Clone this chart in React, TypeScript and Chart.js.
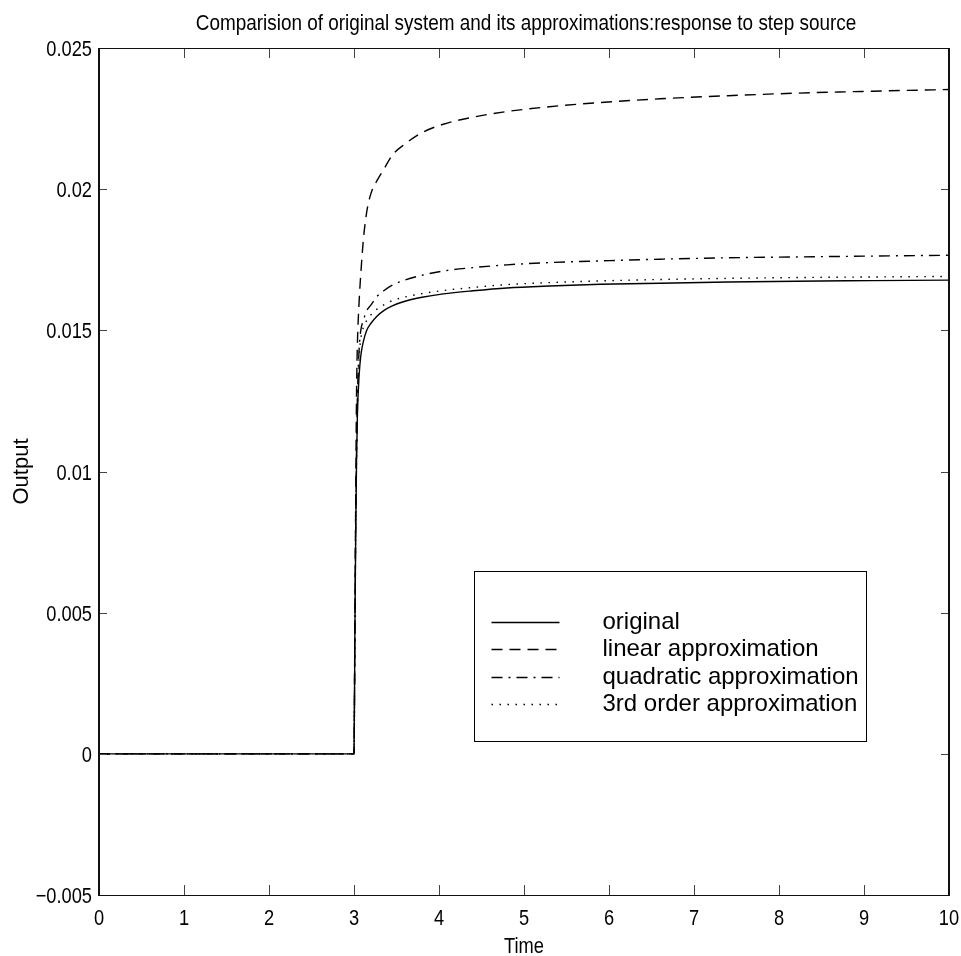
import React, { useEffect, useRef } from 'react';
import { Chart, registerables } from 'chart.js';

Chart.register(...registerables);

// Simulation time grid (s)
const time = [
  0, 3, 3.01, 3.02, 3.03, 3.04, 3.06, 3.08, 3.11, 3.15, 3.2, 3.27, 3.35, 3.45, 3.6,
  3.8, 4.05, 4.4, 4.8, 5.3, 5.9, 6.6, 7.4, 8.2, 9.1, 10,
];

// Step responses of the full system and its reduced-order models
const original = [
  0, 0, 0.004, 0.0078, 0.0104, 0.012, 0.0134, 0.0141, 0.0146, 0.015, 0.01525, 0.0155,
  0.0157, 0.01587, 0.01603, 0.01617, 0.01629, 0.0164, 0.0165, 0.01657, 0.01663, 0.01667,
  0.01671, 0.01674, 0.01676, 0.01678,
];
const linearApprox = [
  0, 0, 0.0045, 0.009, 0.0128, 0.0145, 0.016, 0.017, 0.0182, 0.0192, 0.01985, 0.0203,
  0.0207, 0.0212, 0.0216, 0.022, 0.0223, 0.02255, 0.02275, 0.02292, 0.02307, 0.0232,
  0.02331, 0.0234, 0.02347, 0.02353,
];
const quadraticApprox = [
  0, 0, 0.0041, 0.008, 0.0108, 0.0126, 0.0143, 0.015, 0.01535, 0.0157, 0.0159, 0.0162,
  0.0164, 0.0166, 0.01678, 0.01695, 0.0171, 0.01722, 0.01732, 0.0174, 0.01746, 0.01752,
  0.01757, 0.0176, 0.01763, 0.01766,
];
const thirdOrderApprox = [
  0, 0, 0.004, 0.0078, 0.0105, 0.0122, 0.014, 0.0147, 0.0151, 0.01535, 0.01555, 0.01575,
  0.0159, 0.01605, 0.01618, 0.0163, 0.01641, 0.01652, 0.01662, 0.01669, 0.01675, 0.0168,
  0.01684, 0.01687, 0.01689, 0.01691,
];

const seriesLabels = [
  'original',
  'linear approximation',
  'quadratic approximation',
  '3rd order approximation',
];
const seriesDashes: number[][] = [[], [11, 7], [11, 6, 2, 6], [1.5, 6.5]];

const xTickValues = [0, 1, 2, 3, 4, 5, 6, 7, 8, 9, 10];
const yTickValues = [-0.005, 0, 0.005, 0.01, 0.015, 0.02, 0.025];

const titleText =
  'Comparision of original system and its approximations:response to step source';
const xTitle = 'Time';
const yTitle = 'Output';

const SANS = "'Liberation Sans', Arial, Helvetica, sans-serif";

const formatX = (v: number) => String(v);
const formatY = (v: number) => {
  if (Math.abs(v) < 1e-12) return '0';
  const s = String(+Math.abs(v).toFixed(3));
  return (v < 0 ? '\u2212' : '') + s;
};

const toPoints = (ys: number[]) => time.map((t, i) => ({ x: t, y: ys[i] }));

// Narrow Helvetica-like lettering: regular sans squeezed horizontally
function narrowText(
  ctx: CanvasRenderingContext2D,
  text: string,
  x: number,
  y: number,
  align: CanvasTextAlign,
  squeeze = 0.83,
  size = 22,
) {
  ctx.save();
  ctx.translate(x, y);
  ctx.scale(squeeze, 1);
  ctx.font = `${size}px ${SANS}`;
  ctx.textAlign = align;
  ctx.textBaseline = 'alphabetic';
  ctx.fillText(text, 0, 0);
  ctx.restore();
}

// Boxed axes with inward tick marks, tick labels, titles and an in-plot legend
const framePlugin = {
  id: 'frameAndLegend',
  afterDraw(chart: any) {
    const { ctx, chartArea: a, scales } = chart;
    const xs = scales.x;
    const ys = scales.y;
    ctx.save();

    // tick marks pointing into the plot on all four sides
    ctx.strokeStyle = '#444';
    ctx.lineWidth = 1;
    ctx.beginPath();
    xTickValues.forEach((v) => {
      const px = Math.round(xs.getPixelForValue(v)) + 0.5;
      ctx.moveTo(px, a.bottom);
      ctx.lineTo(px, a.bottom - 10);
      ctx.moveTo(px, a.top);
      ctx.lineTo(px, a.top + 10);
    });
    yTickValues.forEach((v) => {
      const py = Math.round(ys.getPixelForValue(v)) + 0.5;
      ctx.moveTo(a.left, py);
      ctx.lineTo(a.left + 8, py);
      ctx.moveTo(a.right, py);
      ctx.lineTo(a.right - 8, py);
    });
    ctx.stroke();

    // axes box
    ctx.strokeStyle = '#111';
    ctx.lineWidth = 1;
    ctx.beginPath();
    ctx.moveTo(a.left, a.top + 0.5);
    ctx.lineTo(a.right, a.top + 0.5);
    ctx.moveTo(a.left, a.bottom + 0.5);
    ctx.lineTo(a.right, a.bottom + 0.5);
    ctx.stroke();
    ctx.lineWidth = 2;
    ctx.beginPath();
    ctx.moveTo(a.left, a.top);
    ctx.lineTo(a.left, a.bottom + 1);
    ctx.moveTo(a.right, a.top);
    ctx.lineTo(a.right, a.bottom + 1);
    ctx.stroke();

    // tick labels
    ctx.fillStyle = '#000';
    xTickValues.forEach((v) => {
      narrowText(ctx, formatX(v), xs.getPixelForValue(v), a.bottom + 30, 'center');
    });
    yTickValues.forEach((v) => {
      narrowText(ctx, formatY(v), a.left - 7, ys.getPixelForValue(v) + 8, 'right');
    });

    // title and axis labels
    const cx = (a.left + a.right) / 2;
    const cy = (a.top + a.bottom) / 2;
    narrowText(ctx, titleText, cx + 2, a.top - 18, 'center', 0.86);
    narrowText(ctx, xTitle, cx, a.bottom + 58, 'center');
    ctx.save();
    ctx.translate(28, cy);
    ctx.rotate(-Math.PI / 2);
    ctx.font = `22px ${SANS}`;
    ctx.textAlign = 'center';
    ctx.textBaseline = 'alphabetic';
    ctx.fillText(yTitle, 0, 0);
    ctx.restore();

    // legend
    const w = a.right - a.left;
    const h = a.bottom - a.top;
    const lx = Math.round(a.left + w * 0.441) + 0.5;
    const ly = Math.round(a.top + h * 0.618) + 0.5;
    const lw = 392;
    const lh = 170;
    ctx.fillStyle = '#fff';
    ctx.fillRect(lx, ly, lw, lh);
    ctx.strokeStyle = '#000';
    ctx.lineWidth = 1;
    ctx.strokeRect(lx, ly, lw, lh);
    const rowGap = 27.6;
    const firstRow = ly + 50;
    chart.data.datasets.forEach((ds: any, i: number) => {
      const ry = Math.round(firstRow + i * rowGap) + 0.5;
      ctx.strokeStyle = '#000';
      ctx.lineWidth = 1.4;
      ctx.setLineDash(ds.borderDash || []);
      ctx.beginPath();
      ctx.moveTo(lx + 17, ry);
      ctx.lineTo(lx + 85, ry);
      ctx.stroke();
      ctx.setLineDash([]);
      ctx.fillStyle = '#000';
      ctx.font = `24px ${SANS}`;
      ctx.textAlign = 'left';
      ctx.textBaseline = 'middle';
      ctx.fillText(ds.label, lx + 128, ry);
    });

    ctx.restore();
  },
};

export default function App() {
  const canvasRef = useRef<HTMLCanvasElement | null>(null);

  useEffect(() => {
    const canvas = canvasRef.current;
    if (!canvas) return;
    const seriesValues = [original, linearApprox, quadraticApprox, thirdOrderApprox];
    const chart = new Chart(canvas, {
      type: 'scatter',
      data: {
        datasets: seriesValues.map((vals, i) => ({
          label: seriesLabels[i],
          data: toPoints(vals),
          showLine: true,
          borderColor: '#000',
          backgroundColor: '#000',
          borderWidth: 1.4,
          borderDash: seriesDashes[i],
          pointRadius: 0,
          cubicInterpolationMode: 'monotone' as const,
          fill: false,
        })),
      },
      options: {
        animation: false,
        responsive: true,
        maintainAspectRatio: false,
        layout: { padding: { top: 48, right: 12, left: 0, bottom: 0 } },
        plugins: {
          legend: { display: false },
          tooltip: { enabled: false },
          title: { display: false },
        },
        scales: {
          x: {
            type: 'linear',
            min: 0,
            max: 10,
            afterFit: (s: any) => {
              s.height = 61;
              s.paddingLeft = 0;
              s.paddingRight = 0;
            },
            afterBuildTicks: (s: any) => {
              s.ticks = xTickValues.map((v) => ({ value: v }));
            },
            grid: { display: false },
            border: { display: false },
            ticks: { display: false },
          },
          y: {
            type: 'linear',
            min: -0.005,
            max: 0.025,
            afterFit: (s: any) => {
              s.width = 99;
              s.paddingTop = 0;
              s.paddingBottom = 0;
            },
            afterBuildTicks: (s: any) => {
              s.ticks = yTickValues.map((v) => ({ value: v }));
            },
            grid: { display: false },
            border: { display: false },
            ticks: { display: false },
          },
        },
      },
      plugins: [framePlugin],
    });
    return () => chart.destroy();
  }, []);

  return (
    <div
      style={{
        position: 'absolute',
        left: 0,
        top: 0,
        width: 961,
        height: 956,
        background: '#fff',
      }}
    >
      <canvas ref={canvasRef} />
    </div>
  );
}
